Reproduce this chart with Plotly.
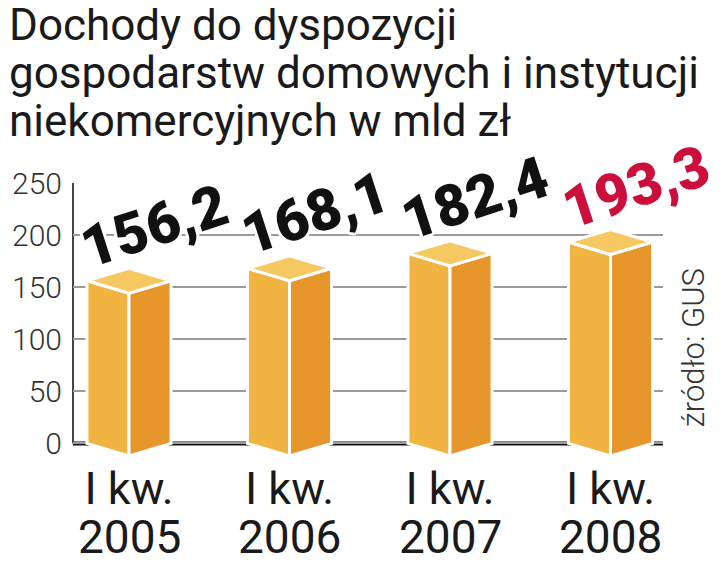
import plotly.graph_objects as go

title_lines = ["Dochody do dyspozycji",
               "gospodarstw domowych i instytucji",
               "niekomercyjnych w mld zł"]
quarters = ["I kw.", "I kw.", "I kw.", "I kw."]
years = ["2005", "2006", "2007", "2008"]
values = [156.2, 168.1, 182.4, 193.3]
value_labels = ["156,2", "168,1", "182,4", "193,3"]
label_colors = ["#111111", "#111111", "#111111", "#CC0E3C"]
y_ticks = [0, 50, 100, 150, 200, 250]
source = "źródło: GUS"

FONT = "Roboto"
FRONT = "#F2B441"
SIDE = "#E6962A"
TOP = "#F6C862"

fig = go.Figure()
w = 0.262   # half width of box in x units
d = 12      # perspective depth in y units
for i, v in enumerate(values):
    faces = [
        ([i - w, i, i, i - w, i - w], [v, v - d, -d, 0, v], FRONT),
        ([i, i + w, i + w, i, i], [v - d, v, 0, -d, v - d], SIDE),
        ([i - w, i, i + w, i, i - w], [v, v + d, v, v - d, v], TOP),
    ]
    for xs, ys, col in faces:
        fig.add_trace(go.Scatter(x=xs, y=ys, mode="lines", fill="toself",
                                 fillcolor=col, line=dict(color="white", width=3),
                                 hoverinfo="skip", showlegend=False))

# baseline and left axis line
fig.add_shape(type="line", xref="paper", yref="y", x0=0, x1=1, y0=0, y1=0,
              line=dict(color="#111111", width=4), layer="between")
fig.add_shape(type="line", xref="paper", yref="y", x0=0, x1=0, y0=0, y1=250,
              line=dict(color="#444444", width=2), layer="between")

shadow = "2px 2px 0 #fff, -2px -2px 0 #fff, 2px -2px 0 #fff, -2px 2px 0 #fff, 0 3px 0 #fff, 0 -3px 0 #fff, 3px 0 0 #fff, -3px 0 0 #fff"
for i, (v, t, c) in enumerate(zip(values, value_labels, label_colors)):
    fig.add_annotation(x=i, y=v, xref="x", yref="y", text=t, showarrow=False,
                       xshift=25, yshift=55, textangle=-18,
                       font=dict(family=FONT, size=58, color=c, weight=900, shadow=shadow))

for i, yr in enumerate(years):
    fig.add_annotation(x=i, y=0, xref="x", yref="paper", text=yr, showarrow=False,
                       yanchor="middle", yshift=-79,
                       font=dict(family=FONT, size=46, color="#1a1a1a"))

shifts = [158, 110, 62]
for line, ys in zip(title_lines, shifts):
    fig.add_annotation(x=0, y=1, xref="paper", yref="paper", text=line, showarrow=False,
                       xanchor="left", yanchor="middle", xshift=-66, yshift=ys,
                       font=dict(family=FONT, size=44, color="#1a1a1a"))

fig.add_annotation(x=1, y=0.399, xref="paper", yref="paper", text=source, showarrow=False,
                   xshift=30, textangle=-90, xanchor="center", yanchor="middle",
                   font=dict(family=FONT, size=31, color="#333333", weight=300))

fig.update_layout(
    width=712, height=556,
    margin=dict(l=65, r=57, t=175, b=106),
    paper_bgcolor="white", plot_bgcolor="white",
    xaxis=dict(range=[-0.349, 3.327], tickmode="array", tickvals=list(range(len(years))),
               ticktext=quarters, showgrid=False, zeroline=False, showline=False,
               ticks="", automargin=False,
               tickfont=dict(family=FONT, size=45, color="#1a1a1a")),
    yaxis=dict(range=[-14, 250], tickmode="array", tickvals=y_ticks,
               showgrid=True, gridcolor="#9a9a9a", gridwidth=1.5, zeroline=False,
               showline=False, ticks="", ticklabelstandoff=10, automargin=False,
               tickfont=dict(family=FONT, size=30, color="#333333", weight=300)),
)

fig.write_html("out.html")
